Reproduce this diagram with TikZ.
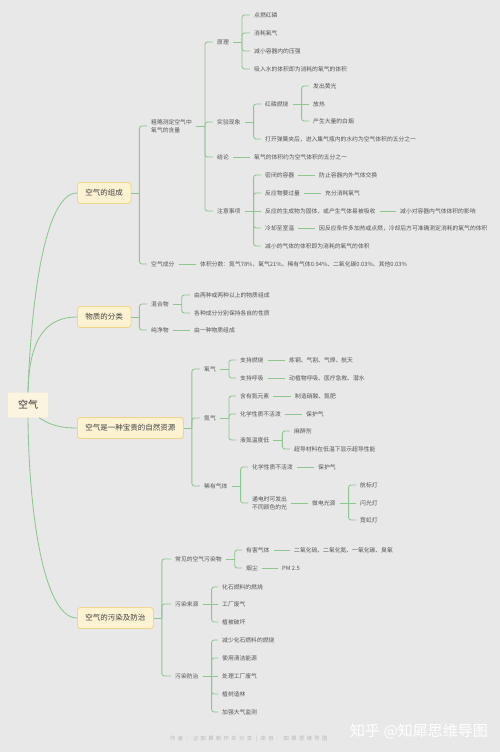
\documentclass[tikz,border=0pt]{standalone}
\usepackage{fontspec}
\setmainfont{Noto Sans CJK SC}
\newfontfamily\mmfootfont[LetterSpace=45]{Noto Sans CJK SC}
\definecolor{bg}{HTML}{E8E8E8}
\definecolor{lg}{HTML}{8CC78E}
\definecolor{txt}{HTML}{555555}
\definecolor{txt1}{HTML}{404040}
\definecolor{boxfill}{HTML}{FDF3D2}
\definecolor{boxline}{HTML}{F2D48A}
\definecolor{rootfill}{HTML}{FBF4DE}
\definecolor{foot}{HTML}{B8B8B8}
\newcommand\mmbox[2]{\draw[ln,rounded corners=2.5pt] ([xshift=8pt]#1.east) |- ([xshift=-4pt]#2.west);}
\newcommand\mmboxstub[1]{\draw[ln] (#1.east) -- ([xshift=8pt]#1.east);}
\newcommand\mmfork[2]{\draw[ln,rounded corners=2.5pt] ([xshift=13pt]#1.east) |- ([xshift=-4pt]#2.west);}
\newcommand\mmmid[2]{\draw[ln] ([xshift=13pt]#1.east) -- ([xshift=-4pt]#2.west);}
\newcommand\mmstub[1]{\draw[ln] ([xshift=4pt]#1.east) -- ([xshift=13pt]#1.east);}
\newcommand\mmlink[2]{\draw[ln] ([xshift=4pt]#1.east) -- ([xshift=-4pt]#2.west);}
\begin{document}
\begin{tikzpicture}[x=1pt,y=-1pt,
 t/.style={anchor=west,inner sep=0pt,font=\fontsize{5.8}{8}\selectfont,text=txt,align=left},
 l1/.style={anchor=west,draw=boxline,fill=boxfill,rounded corners=3pt,line width=0.9pt,inner xsep=8pt,inner ysep=0pt,minimum height=21pt,font=\fontsize{7.5}{9}\selectfont,text=txt1},
 rootbox/.style={fill=rootfill,rounded corners=1pt,minimum width=40pt,minimum height=25pt,inner sep=0pt,font=\fontsize{10}{12}\selectfont,text=black!80},
 ln/.style={draw=lg,line width=0.85pt}]
\fill[bg] (0,0) rectangle (500,752);
\useasboundingbox (0,0) rectangle (500,752);

% root and level 1
\node[rootbox] (root) at (28,405) {空气};
\node[l1] (c1) at (77,193) {空气的组成};
\node[l1] (c2) at (77,317) {物质的分类};
\node[l1] (c3) at (77,428) {空气是一种宝贵的自然资源};
\node[l1] (c4) at (77,618) {空气的污染及防治};

% branch 1
\node[t] (a1) at (151,126) {粗略测定空气中\\氧气的含量};
\node[t] (a2) at (151,264) {空气成分};
\node[t] (a2x) at (200,264) {体积分数：氮气78\%、氧气21\%、稀有气体0.94\%、二氧化碳0.03\%、其他0.03\%};
\node[t] (p1) at (217,42) {原理};
\node[t] (p2) at (217,122) {实验现象};
\node[t] (p3) at (217,157) {结论};
\node[t] (p4) at (217,211) {注意事项};
\node[t] (p1a) at (254,15) {点燃红磷};
\node[t] (p1b) at (254,33) {消耗氧气};
\node[t] (p1c) at (254,51) {减小容器内的压强};
\node[t] (p1d) at (254,69) {吸入水的体积即为消耗的氧气的体积};
\node[t] (p2a) at (265,104) {红磷燃烧};
\node[t] (p2b) at (265,139) {打开弹簧夹后，进入集气瓶内的水约为空气体积的五分之一};
\node[t] (q1) at (313,86) {发出黄光};
\node[t] (q2) at (313,104) {放热};
\node[t] (q3) at (313,121) {产生大量的白烟};
\node[t] (p3a) at (254,157) {氧气的体积约为空气体积的五分之一};
\node[t] (n1) at (265,175) {密闭的容器};
\node[t] (n2) at (265,193) {反应物要过量};
\node[t] (n3) at (265,211) {反应的生成物为固体，或产生气体易被吸收};
\node[t] (n4) at (265,228) {冷却至室温};
\node[t] (n5) at (265,246) {减小的气体的体积即为消耗的氧气的体积};
\node[t] (n1a) at (319,175) {防止容器内外气体交换};
\node[t] (n2a) at (325,193) {充分消耗氧气};
\node[t] (n3a) at (400,211) {减小对容器内气体体积的影响};
\node[t] (n4a) at (319,228) {因反应条件多加热或点燃，冷却后方可准确测定消耗的氧气的体积};

% branch 2
\node[t] (m1) at (151,304) {混合物};
\node[t] (m2) at (151,330) {纯净物};
\node[t] (m1a) at (194,295) {由两种或两种以上的物质组成};
\node[t] (m1b) at (194,313) {各种成分分别保持各自的性质};
\node[t] (m2a) at (194,330) {由一种物质组成};

% branch 3
\node[t] (o) at (204,369) {氧气};
\node[t] (nn) at (204,418) {氮气};
\node[t] (r) at (204,486) {稀有气体};
\node[t] (o1) at (240,360) {支持燃烧};
\node[t] (o2) at (240,378) {支持呼吸};
\node[t] (o1a) at (289,360) {炼钢、气割、气焊、航天};
\node[t] (o2a) at (289,378) {动植物呼吸、医疗急救、潜水};
\node[t] (nn1) at (240,396) {含有氮元素};
\node[t] (nn2) at (240,414) {化学性质不活泼};
\node[t] (nn3) at (240,440) {液氮温度低};
\node[t] (nn1a) at (295,396) {制造硝酸、氮肥};
\node[t] (nn2a) at (306,414) {保护气};
\node[t] (nn3a) at (294,431) {麻醉剂};
\node[t] (nn3b) at (294,449) {超导材料在低温下显示超导性能};
\node[t] (r1) at (252,467) {化学性质不活泼};
\node[t] (r2) at (252,503) {通电时可发出\\不同颜色的光};
\node[t] (r1a) at (318,467) {保护气};
\node[t] (r2a) at (312,503) {做电光源};
\node[t] (lx1) at (360,485) {航标灯};
\node[t] (lx2) at (360,503) {闪光灯};
\node[t] (lx3) at (360,520) {霓虹灯};

% branch 4
\node[t] (s1) at (175,559) {常见的空气污染物};
\node[t] (s2) at (175,604) {污染来源};
\node[t] (s3) at (175,676) {污染防治};
\node[t] (s1a) at (246,550) {有害气体};
\node[t] (s1b) at (246,568) {烟尘};
\node[t] (s1aa) at (294,550) {二氧化硫、二氧化氮、一氧化碳、臭氧};
\node[t] (s1bb) at (282,568) {PM 2.5};
\node[t] (s2a) at (222,587) {化石燃料的燃烧};
\node[t] (s2b) at (222,604) {工厂废气};
\node[t] (s2c) at (222,622) {植被破坏};
\node[t] (s3a) at (222,640) {减少化石燃料的燃烧};
\node[t] (s3b) at (222,658) {使用清洁能源};
\node[t] (s3c) at (222,676) {处理工厂废气};
\node[t] (s3d) at (222,694) {植树造林};
\node[t] (s3e) at (222,712) {加强大气监测};

% footer
\node[anchor=west,inner sep=0pt,text=foot,font=\mmfootfont\fontsize{5.3}{6}\selectfont] (ft) at (170,739) {作者：@知犀制作并分享 | 来自：知犀思维导图};
\node[anchor=west,inner sep=0pt,text=white,font=\fontsize{15}{16}\selectfont] (wm) at (350,731) {知乎 @知犀思维导图};

% root curves
\draw[ln] (root.north) .. controls (31,300) and (45,193) .. (c1.west);
\draw[ln] (root.north) .. controls (29,340) and (45,317) .. (c2.west);
\draw[ln] ([xshift=11pt]root.south) .. controls (50,425) and (60,428) .. (c3.west);
\draw[ln] (root.south) .. controls (29,520) and (45,618) .. (c4.west);

% branch 1 connectors
\mmboxstub{c1} \mmbox{c1}{a1} \mmbox{c1}{a2}
\mmlink{a2}{a2x}
\mmstub{a1} \mmfork{a1}{p1} \mmfork{a1}{p2} \mmfork{a1}{p3} \mmfork{a1}{p4}
\mmstub{p1} \mmfork{p1}{p1a} \mmfork{p1}{p1b} \mmfork{p1}{p1c} \mmfork{p1}{p1d}
\mmstub{p2} \mmfork{p2}{p2a} \mmfork{p2}{p2b}
\mmstub{p2a} \mmfork{p2a}{q1} \mmmid{p2a}{q2} \mmfork{p2a}{q3}
\mmlink{p3}{p3a}
\mmstub{p4} \mmfork{p4}{n1} \mmfork{p4}{n2} \mmmid{p4}{n3} \mmfork{p4}{n4} \mmfork{p4}{n5}
\mmlink{n1}{n1a} \mmlink{n2}{n2a} \mmlink{n3}{n3a} \mmlink{n4}{n4a}

% branch 2 connectors
\mmboxstub{c2} \mmbox{c2}{m1} \mmbox{c2}{m2}
\mmstub{m1} \mmfork{m1}{m1a} \mmfork{m1}{m1b}
\mmlink{m2}{m2a}

% branch 3 connectors
\mmboxstub{c3} \mmbox{c3}{o} \mmbox{c3}{nn} \mmbox{c3}{r}
\mmstub{o} \mmfork{o}{o1} \mmfork{o}{o2}
\mmlink{o1}{o1a} \mmlink{o2}{o2a}
\mmstub{nn} \mmfork{nn}{nn1} \mmfork{nn}{nn2} \mmfork{nn}{nn3}
\mmlink{nn1}{nn1a} \mmlink{nn2}{nn2a}
\mmstub{nn3} \mmfork{nn3}{nn3a} \mmfork{nn3}{nn3b}
\mmstub{r} \mmfork{r}{r1} \mmfork{r}{r2}
\mmlink{r1}{r1a} \mmlink{r2}{r2a}
\mmstub{r2a} \mmfork{r2a}{lx1} \mmmid{r2a}{lx2} \mmfork{r2a}{lx3}

% branch 4 connectors
\mmboxstub{c4} \mmbox{c4}{s1} \mmbox{c4}{s2} \mmbox{c4}{s3}
\mmstub{s1} \mmfork{s1}{s1a} \mmfork{s1}{s1b}
\mmlink{s1a}{s1aa} \mmlink{s1b}{s1bb}
\mmstub{s2} \mmfork{s2}{s2a} \mmmid{s2}{s2b} \mmfork{s2}{s2c}
\mmstub{s3} \mmfork{s3}{s3a} \mmfork{s3}{s3b} \mmmid{s3}{s3c} \mmfork{s3}{s3d} \mmfork{s3}{s3e}
\end{tikzpicture}
\end{document}
